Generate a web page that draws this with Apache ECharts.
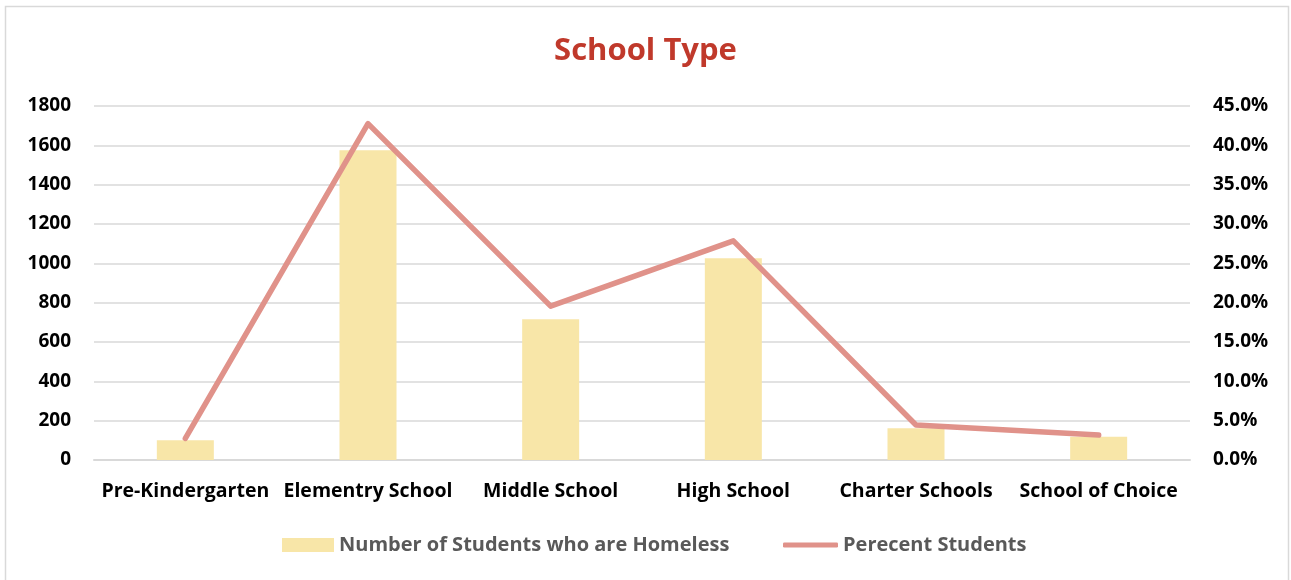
<!DOCTYPE html>
<html>
<head>
<meta charset="utf-8">
<script src="https://cdn.jsdelivr.net/npm/echarts@6/dist/echarts.min.js"></script>
<style>
html,body{margin:0;padding:0;background:#fff;}
#chart{width:1291px;height:580px;}
</style>
</head>
<body>
<div id="chart"></div>
<script>
const categories = ['Pre-Kindergarten', 'Elementry School', 'Middle School', 'High School', 'Charter Schools', 'School of Choice'];
const homelessCounts = [101, 1575, 716, 1026, 161, 118];
const percentStudents = [2.76, 42.76, 19.56, 27.86, 4.45, 3.18];
const leftTicks = { min: 0, max: 1800, interval: 200 };
const rightTicks = { min: 0, max: 45, interval: 5 };
const seriesNames = ['Number of Students who are Homeless', 'Perecent Students'];

const FONT = 'Open Sans';
const BAR_COLOR = '#F8E6A8';
const LINE_COLOR = '#E0928A';
const chart = echarts.init(document.getElementById('chart'));
const legendText = { color: '#595959', fontSize: 20, fontWeight: 'bold', fontFamily: FONT };
chart.setOption({
  animation: false,
  backgroundColor: '#fff',
  graphic: [{
    type: 'rect',
    shape: { x: 5.5, y: 6.5, width: 1283, height: 620 },
    style: { fill: 'none', stroke: '#d9d9d9', lineWidth: 1.5 },
    silent: true, z: -1
  }],
  title: {
    text: 'School Type',
    left: 'center',
    top: 31,
    textStyle: { color: '#C0392B', fontSize: 31, fontWeight: 'bold', fontFamily: FONT }
  },
  legend: [
    {
      left: 277, top: 530,
      itemWidth: 52, itemHeight: 14,
      textStyle: legendText,
      data: [{ name: seriesNames[0], icon: 'rect' }]
    },
    {
      left: 778, top: 530,
      itemWidth: 55, itemHeight: 5,
      textStyle: legendText,
      data: [{ name: seriesNames[1], icon: 'roundRect' }]
    }
  ],
  grid: { left: 94, right: 101, top: 106, bottom: 120 },
  xAxis: {
    type: 'category',
    data: categories,
    axisLine: { lineStyle: { color: '#d9d9d9', width: 2 } },
    axisTick: { show: false },
    axisLabel: { color: '#000', fontSize: 19.5, fontWeight: 'bold', fontFamily: FONT, margin: 21, interval: 0 }
  },
  yAxis: [
    {
      type: 'value',
      min: leftTicks.min, max: leftTicks.max, interval: leftTicks.interval,
      axisLine: { show: false }, axisTick: { show: false },
      splitLine: { lineStyle: { color: '#d9d9d9', width: 1.5 } },
      axisLabel: { color: '#000', fontSize: 19, fontWeight: 'bold', fontFamily: FONT, margin: 23,
        formatter: v => String(v) }
    },
    {
      type: 'value',
      min: rightTicks.min, max: rightTicks.max, interval: rightTicks.interval,
      axisLine: { show: false }, axisTick: { show: false },
      splitLine: { show: false },
      axisLabel: { color: '#000', fontSize: 19, fontWeight: 'bold', fontFamily: FONT, margin: 23,
        formatter: v => v.toFixed(1) + '%' }
    }
  ],
  series: [
    {
      name: seriesNames[0],
      type: 'bar',
      data: homelessCounts,
      barWidth: 57,
      itemStyle: { color: BAR_COLOR }
    },
    {
      name: seriesNames[1],
      type: 'line',
      yAxisIndex: 1,
      data: percentStudents,
      symbol: 'none',
      lineStyle: { color: LINE_COLOR, width: 5.5, cap: 'round', join: 'round' },
      itemStyle: { color: LINE_COLOR }
    }
  ]
});
</script>
</body>
</html>
